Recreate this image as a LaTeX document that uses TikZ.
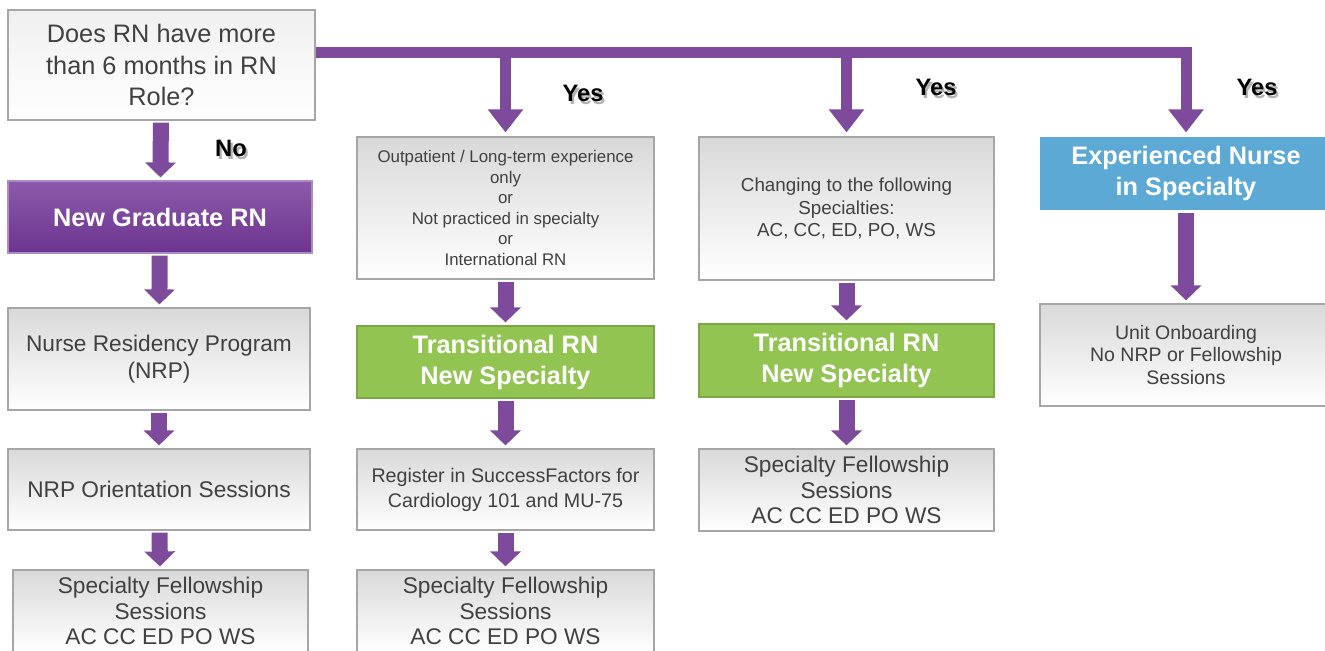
\documentclass[tikz,border=0pt]{standalone}
\usepackage{fontspec}
\setmainfont{Liberation Sans}
\usetikzlibrary{arrows.meta}

\definecolor{rnpurple}{HTML}{7D4A9C}
\definecolor{gradtop}{HTML}{8C5AAA}
\definecolor{gradbot}{HTML}{6C3490}
\definecolor{trgreen}{HTML}{92C451}
\definecolor{expblue}{HTML}{5CA9D6}
\definecolor{boxline}{HTML}{A6A6A6}
\definecolor{boxtext}{HTML}{404040}

\newcommand{\fs}[2]{\fontsize{#1}{#2}\selectfont}
% bold label with a soft grey drop shadow
\newcommand{\shadowed}[1]{\makebox[0pt][l]{\hspace{1.2pt}\raisebox{-1.2pt}{\color{black!30}#1}}#1}

\tikzset{
  greybox/.style={draw=boxline, line width=0.7pt, top color=black!15, bottom color=white,
    text=boxtext, align=center, inner sep=0pt},
  titlebox/.style={line width=0.7pt, text=white, align=center, inner sep=0pt,
    font=\bfseries\fs{14.4}{17.6}},
  flow/.style={draw=rnpurple, line width=0.32cm, -{Triangle[length=0.3cm, width=0.6cm]},
    shorten <=0.04cm, shorten >=0.06cm},
  branch/.style={draw=rnpurple, line width=0.22cm, line join=miter,
    -{Triangle[length=0.46cm, width=0.68cm]}, shorten >=0.08cm},
  answer/.style={font=\bfseries\fs{13.5}{16}, text=black},
}

\begin{document}
\begin{tikzpicture}[x=0.02cm, y=-0.02cm]
    \useasboundingbox (0,0) rectangle (1325,650);

    % question
    \node[greybox, top color=black!6, minimum width=6.14cm, minimum height=2.2cm, font=\fs{14.4}{18.1}]
      (q) at (161.5,65) {Does RN have more\\than 6 months in RN\\Role?};

    % no: new graduate
    \node[titlebox, draw=gradtop!70!white, top color=gradtop, bottom color=gradbot,
      minimum width=6.08cm, minimum height=1.44cm] (grad) at (160,217) {New Graduate RN};
    \node[greybox, minimum width=6.04cm, minimum height=2.04cm, font=\fs{12.9}{15.3}]
      (nrp) at (159,359) {Nurse Residency Program\\(NRP)};
    \node[greybox, minimum width=6.04cm, minimum height=1.62cm, font=\fs{12.9}{15.3}]
      (orient) at (159,489.5) {NRP Orientation Sessions};
    \node[greybox, minimum width=5.9cm, minimum height=1.64cm, font=\fs{12.9}{14.7}]
      (sfsA) at (160.5,611) {Specialty Fellowship\\Sessions\\AC CC ED PO WS};

    % yes: other experience
    \node[greybox, minimum width=5.94cm, minimum height=2.84cm, font=\fs{9.6}{11.7}]
      (out) at (505.5,208) {Outpatient / Long-term experience\\only\\or\\Not practiced in specialty\\or\\International RN};
    \node[titlebox, draw=trgreen!85!black, fill=trgreen, minimum width=5.94cm, minimum height=1.44cm]
      (transA) at (505.5,362) {Transitional RN\\New Specialty};
    \node[greybox, minimum width=5.94cm, minimum height=1.62cm, font=\fs{11.2}{14.2}]
      (reg) at (505.5,489.5) {Register in SuccessFactors for\\Cardiology 101 and MU-75};
    \node[greybox, minimum width=5.94cm, minimum height=1.64cm, font=\fs{12.9}{14.7}]
      (sfsB) at (505.5,611) {Specialty Fellowship\\Sessions\\AC CC ED PO WS};

    % yes: changing specialty
    \node[greybox, minimum width=5.9cm, minimum height=2.86cm, font=\fs{10.7}{12.7}]
      (chg) at (846.5,208.5) {Changing to the following\\Specialties:\\AC, CC, ED, PO, WS};
    \node[titlebox, draw=trgreen!85!black, fill=trgreen, minimum width=5.9cm, minimum height=1.46cm]
      (transB) at (846.5,360.5) {Transitional RN\\New Specialty};
    \node[greybox, minimum width=5.9cm, minimum height=1.64cm, font=\fs{12.9}{14.7}]
      (sfsC) at (846.5,490) {Specialty Fellowship\\Sessions\\AC CC ED PO WS};

    % yes: same specialty
    \node[titlebox, fill=expblue, minimum width=5.84cm, minimum height=1.46cm]
      (exp) at (1186,173.5) {Experienced Nurse\\in Specialty};
    \node[greybox, minimum width=5.84cm, minimum height=2.04cm, font=\fs{11.1}{13}]
      (unit) at (1186,355) {Unit Onboarding\\No NRP or Fellowship\\Sessions};

    % branches off the question
    \coordinate (bus) at (0,52);
    \draw[branch] (q.east |- bus) -- (exp.north |- bus) -- (exp.north);
    \draw[branch] (out.north |- bus) -- (out.north);
    \draw[branch] (chg.north |- bus) -- (chg.north);
    \draw[flow] (q) -- (grad);

    % steps down each column
    \draw[flow] (grad) -- (nrp);
    \draw[flow] (nrp) -- (orient);
    \draw[flow] (orient) -- (sfsA);
    \draw[flow] (out) -- (transA);
    \draw[flow] (transA) -- (reg);
    \draw[flow] (reg) -- (sfsB);
    \draw[flow] (chg) -- (transB);
    \draw[flow] (transB) -- (sfsC);
    \draw[flow] (exp) -- (unit);

    \node[answer] (no)   at (231,150)  {\shadowed{No}};
    \node[answer] (yesA) at (583,95)   {\shadowed{Yes}};
    \node[answer] (yesB) at (936,89)   {\shadowed{Yes}};
    \node[answer] (yesC) at (1257,89)  {\shadowed{Yes}};
  \end{tikzpicture}
\end{document}
